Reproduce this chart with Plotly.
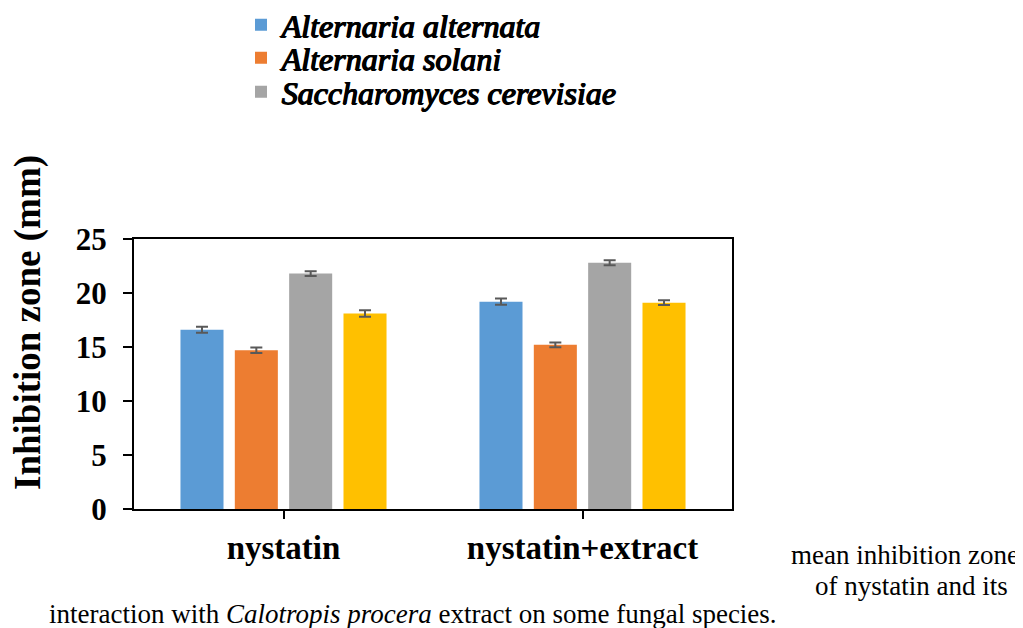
import plotly.graph_objects as go

categories = ["nystatin", "nystatin+extract"]
series_names = ["Alternaria alternata", "Alternaria solani", "Saccharomyces cerevisiae", "Series 4"]
alt_alternata = [16.6, 19.2]
alt_solani = [14.7, 15.2]
sacch_cerevisiae = [21.8, 22.8]
series4 = [18.1, 19.1]
err_alternata = [0.28, 0.28]
err_solani = [0.25, 0.22]
err_sacch = [0.22, 0.24]
err_series4 = [0.3, 0.22]
y_ticks = [0, 5, 10, 15, 20, 25]

colors = ["#5B9BD5", "#ED7D31", "#A5A5A5", "#FFC000"]
values = [alt_alternata, alt_solani, sacch_cerevisiae, series4]
errors = [err_alternata, err_solani, err_sacch, err_series4]
legend_ids = ["legend", "legend2", "legend3", None]
legend_rows = [25, 58, 92]

SERIF = "Liberation Serif"
OFF = 8  # page body margin
W, H = 1023 - OFF, 628 - OFF
PL, PR, PT, PB = 134, 732, 239, 509  # plot area in page pixels
PW, PH = PR - PL, PB - PT


def px(x):
    return (x - PL) / PW


def py(y):
    return (PB - y) / PH


fig = go.Figure()
for name, vals, errs, col, lg in zip(series_names, values, errors, colors, legend_ids):
    fig.add_trace(go.Bar(
        x=categories, y=vals, name=name, marker=dict(color=col, line=dict(width=0)),
        error_y=dict(type="data", array=errs, visible=True, color="#595959", thickness=2, width=6),
        showlegend=lg is not None, legend=lg if lg else "legend",
    ))

# Bold-italic face is not installed: italic face thickened with a text shadow
legend_font = dict(family=SERIF, size=32, style="italic", color="black",
                   shadow="1.4px 0 0 #000, 0.7px 0 0 #000, 0.7px 0.4px 0 #000")
legends = {}
for lg, row in zip(legend_ids[:3], legend_rows):
    legends[lg] = dict(x=px(241), y=py(row), xanchor="left", yanchor="middle",
                       font=legend_font, bgcolor="rgba(0,0,0,0)", itemclick=False,
                       itemdoubleclick=False)

fig.update_layout(
    width=W, height=H,
    margin=dict(l=PL - OFF, r=1023 - PR, t=PT - OFF, b=628 - PB, autoexpand=False),
    paper_bgcolor="white", plot_bgcolor="white",
    barmode="group", bargap=0.273, bargroupgap=0.208,
    font=dict(family=SERIF, color="black"),
    xaxis=dict(
        range=[-0.5, 1.5], showline=True, linecolor="black", linewidth=2, mirror=True,
        ticks="outside", ticklen=8, tickwidth=2, tickcolor="black",
        tickfont=dict(family=SERIF, size=33, weight="bold"), ticklabelstandoff=0,
        showgrid=False, zeroline=False,
    ),
    yaxis=dict(
        range=[0, 25], tickvals=y_ticks, showline=True, linecolor="black", linewidth=2, mirror=True,
        ticks="outside", ticklen=9, tickwidth=2, tickcolor="black",
        tickfont=dict(family=SERIF, size=31, weight="bold"), ticklabelstandoff=10,
        showgrid=False, zeroline=False,
    ),
    annotations=[
        dict(text="<b>Inhibition zone (mm)</b>", textangle=-90, xref="paper", yref="paper",
             x=px(28), y=py(323), showarrow=False, font=dict(family=SERIF, size=37, color="black"),
             xanchor="center", yanchor="middle"),
        dict(text="mean inhibition zone", xref="paper", yref="paper", x=px(1021),
             y=py(555), xanchor="right", yanchor="middle", showarrow=False,
             font=dict(family=SERIF, size=27, color="black")),
        dict(text="of nystatin and its", xref="paper", yref="paper", x=px(911),
             y=py(586), xanchor="center", yanchor="middle", showarrow=False,
             font=dict(family=SERIF, size=27, color="black")),
        dict(text="interaction with <i>Calotropis procera</i> extract on some fungal species.",
             xref="paper", yref="paper", x=px(47), y=py(614),
             xanchor="left", yanchor="middle", showarrow=False,
             font=dict(family=SERIF, size=27, color="black")),
    ],
    **legends,
)

fig.write_html("out.html")
